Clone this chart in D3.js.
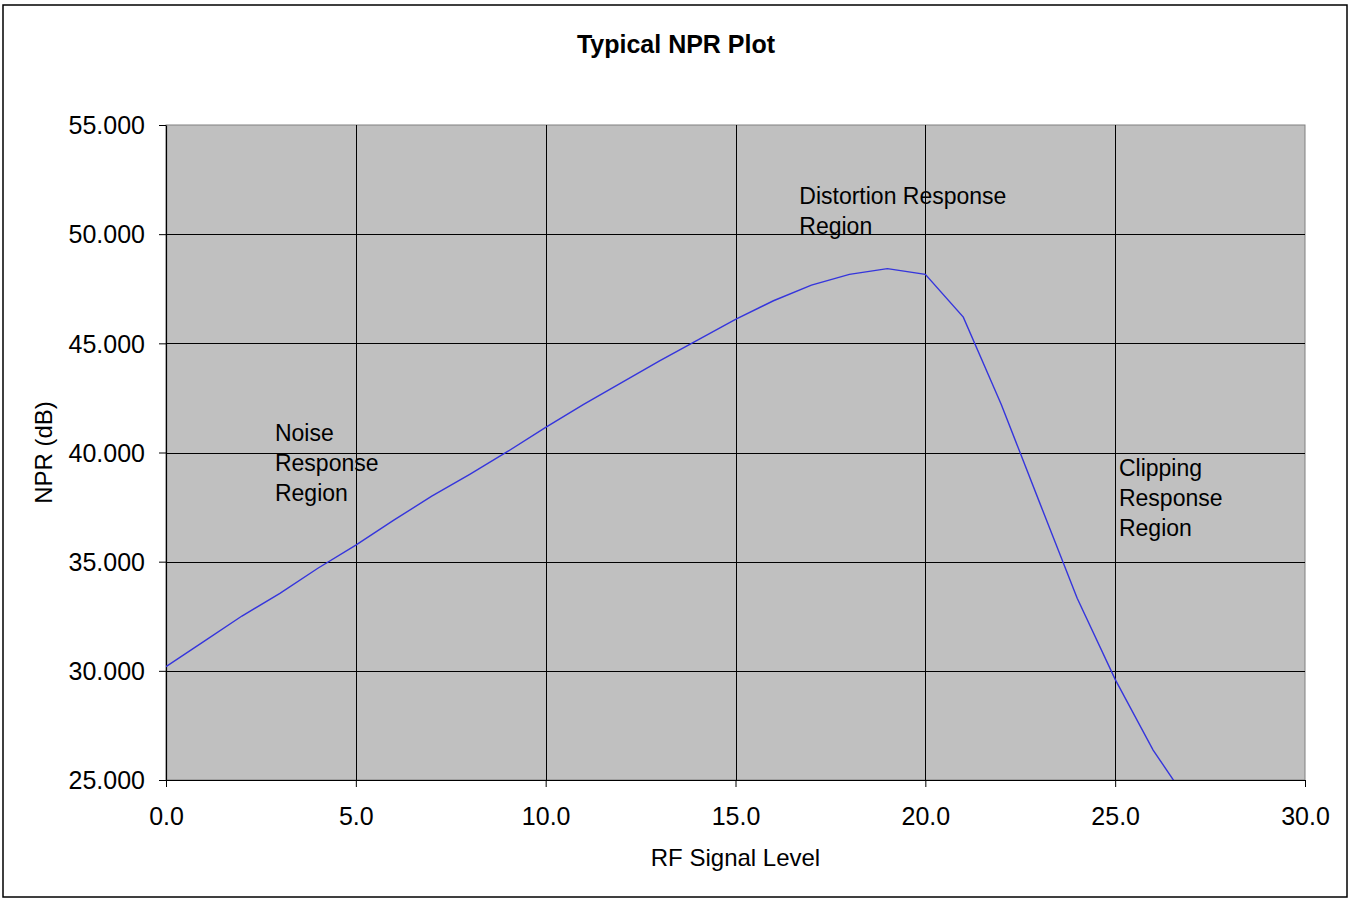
<!DOCTYPE html>
<html>
<head>
<meta charset="utf-8">
<script src="https://cdn.jsdelivr.net/npm/d3@7"></script>
<style>
  html, body { margin: 0; padding: 0; background: #fff; }
  svg { display: block; font-family: "Liberation Sans", Arial, sans-serif; }
</style>
</head>
<body>
<svg id="chart" width="1350" height="899"></svg>
<script>
const rfLevels = [0,1,2,3,4,5,6,7,8,9,10,11,12,13,14,15,16,17,18,19,20,21,22,23,24,25,26,27];
const nprValues = [30.19,31.35,32.51,33.55,34.70,35.76,36.90,38.00,39.00,40.05,41.15,42.20,43.20,44.20,45.15,46.10,46.95,47.67,48.16,48.42,48.16,46.20,42.20,37.75,33.32,29.61,26.37,23.80];
const xTicks = [0,5,10,15,20,25,30];
const yTicks = [25,30,35,40,45,50,55];
const titleText = "Typical NPR Plot";
const xTitle = "RF Signal Level";
const yTitle = "NPR (dB)";
const annotations = [
  {x: 2.87, y: 40.52, lines: ["Noise", "Response", "Region"]},
  {x: 16.68, y: 51.4, lines: ["Distortion Response", "Region"]},
  {x: 25.1, y: 38.92, lines: ["Clipping", "Response", "Region"]}
];

const svg = d3.select("#chart");
const plot = {left: 166, right: 1305, top: 125, bottom: 780};

svg.append("rect").attr("x", 3).attr("y", 5).attr("width", 1344).attr("height", 892)
  .attr("fill", "#fff").attr("stroke", "#000").attr("stroke-width", 1.5);

const x = d3.scaleLinear().domain([0, 30]).range([plot.left, plot.right]);
const y = d3.scaleLinear().domain([25, 55]).range([plot.bottom, plot.top]);

svg.append("rect").attr("x", plot.left).attr("y", plot.top)
  .attr("width", plot.right - plot.left).attr("height", plot.bottom - plot.top)
  .attr("fill", "#c0c0c0").attr("stroke", "#808080").attr("stroke-width", 1);

// gridlines
svg.append("g").selectAll("line").data(yTicks.slice(1, -1)).join("line")
  .attr("x1", plot.left).attr("x2", plot.right)
  .attr("y1", d => Math.round(y(d)) + 0.5).attr("y2", d => Math.round(y(d)) + 0.5)
  .attr("stroke", "#000").attr("stroke-width", 1);
svg.append("g").selectAll("line").data(xTicks.slice(1, -1)).join("line")
  .attr("y1", plot.top).attr("y2", plot.bottom)
  .attr("x1", d => Math.round(x(d)) + 0.5).attr("x2", d => Math.round(x(d)) + 0.5)
  .attr("stroke", "#000").attr("stroke-width", 1);

// axes
const xAxis = d3.axisBottom(x).tickValues(xTicks).tickFormat(d3.format(".1f")).tickSizeInner(7).tickSizeOuter(0).tickPadding(20);
const yAxis = d3.axisLeft(y).tickValues(yTicks).tickFormat(d3.format(".3f")).tickSizeInner(7).tickSizeOuter(0).tickPadding(14);

const gx = svg.append("g").attr("transform", `translate(0,${plot.bottom})`).call(xAxis);
const gy = svg.append("g").attr("transform", `translate(${plot.left},0)`).call(yAxis);
[gx, gy].forEach(g => {
  g.selectAll("path").attr("stroke", "#000").attr("stroke-width", 1.2);
  g.selectAll("line").attr("stroke", "#000");
  g.selectAll("text").attr("font-size", 25).attr("fill", "#000")
    .attr("font-family", "'Liberation Sans', Arial, sans-serif");
});
gx.selectAll("text").attr("dy", "0.71em");
gy.selectAll("text").attr("dy", "0.35em");

// clip
svg.append("clipPath").attr("id", "clip").append("rect")
  .attr("x", plot.left).attr("y", plot.top)
  .attr("width", plot.right - plot.left).attr("height", plot.bottom - plot.top);

const line = d3.line().x((d, i) => x(rfLevels[i])).y(d => y(d));
svg.append("path").datum(nprValues).attr("clip-path", "url(#clip)")
  .attr("d", line).attr("fill", "none").attr("stroke", "#3535dc").attr("stroke-width", 1.4);

// annotations
annotations.forEach(a => {
  const t = svg.append("text").attr("x", x(a.x)).attr("y", y(a.y))
    .attr("font-size", 23).attr("fill", "#000");
  a.lines.forEach((l, i) => {
    t.append("tspan").attr("x", x(a.x)).attr("dy", i === 0 ? 0 : 30).text(l);
  });
});

// titles
svg.append("text").attr("x", 676).attr("y", 53).attr("text-anchor", "middle")
  .attr("font-size", 25).attr("font-weight", "bold").text(titleText);
svg.append("text").attr("x", (plot.left + plot.right) / 2).attr("y", 866).attr("text-anchor", "middle")
  .attr("font-size", 24).text(xTitle);
svg.append("text").attr("transform", `translate(52,${(plot.top + plot.bottom) / 2}) rotate(-90)`)
  .attr("text-anchor", "middle").attr("font-size", 24).text(yTitle);
</script>
</body>
</html>
